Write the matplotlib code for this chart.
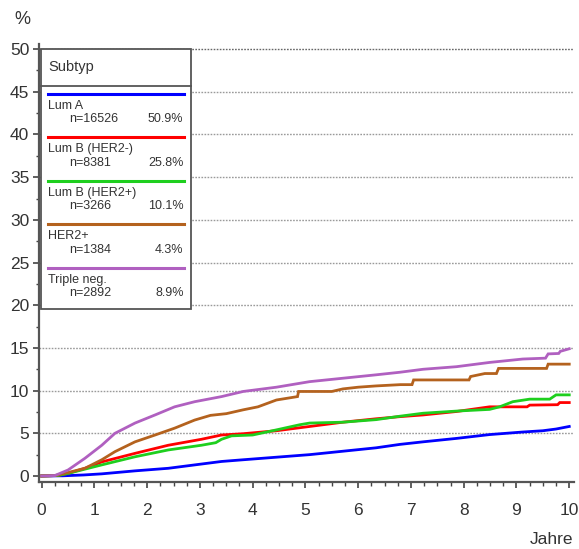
import numpy as np
import matplotlib.pyplot as plt
from matplotlib.patches import Rectangle
from matplotlib.lines import Line2D
from matplotlib.ticker import MultipleLocator

plt.rcParams['font.family'] = ['Liberation Sans', 'DejaVu Sans']

# Subtypen (Legende)
names = ["Lum A", "Lum B (HER2-)", "Lum B (HER2+)", "HER2+", "Triple neg."]
counts = ["n=16526", "n=8381", "n=3266", "n=1384", "n=2892"]
shares = ["50.9%", "25.8%", "10.1%", "4.3%", "8.9%"]
colors = ["#0000ff", "#ff0000", "#1ecf1e", "#b4621e", "#b060c0"]

# Kurven (Jahre, %)
t_luma = [0, 0.4, 0.8, 1.14, 1.77, 2.4, 3.03, 3.41, 3.82, 4.45, 5.08, 5.71, 6.34, 6.79, 7.23, 7.86, 8.49, 9.12, 9.5, 9.75, 10.0]
v_luma = [0, 0.02, 0.12, 0.25, 0.6, 0.9, 1.4, 1.7, 1.9, 2.2, 2.5, 2.9, 3.3, 3.7, 4.0, 4.4, 4.85, 5.15, 5.3, 5.5, 5.8]

t_lumb_neg = [0, 0.3, 0.5, 0.82, 1.14, 1.77, 2.4, 3.03, 3.41, 3.82, 4.45, 5.08, 5.71, 6.34, 6.79, 7.23, 7.86, 8.49, 9.2, 9.25, 9.78, 9.82, 10.0]
v_lumb_neg = [0, 0.05, 0.3, 0.9, 1.65, 2.65, 3.6, 4.3, 4.8, 4.95, 5.3, 5.8, 6.3, 6.7, 6.95, 7.15, 7.55, 8.1, 8.1, 8.3, 8.35, 8.6, 8.6]

t_lumb_pos = [0, 0.3, 0.5, 0.82, 1.14, 1.77, 2.4, 3.03, 3.3, 3.41, 3.6, 4.0, 4.45, 4.89, 5.08, 5.71, 6.34, 6.79, 7.23, 7.86, 8.49, 8.68, 8.93, 9.25, 9.63, 9.75, 10.0]
v_lumb_pos = [0, 0.05, 0.3, 0.8, 1.3, 2.25, 3.05, 3.6, 3.9, 4.3, 4.7, 4.8, 5.4, 6.0, 6.2, 6.3, 6.6, 7.0, 7.35, 7.6, 7.8, 8.1, 8.7, 9.0, 9.0, 9.5, 9.5]

t_her2 = [0, 0.25, 0.5, 0.82, 1.14, 1.39, 1.77, 2.15, 2.52, 2.9, 3.2, 3.5, 3.82, 4.1, 4.45, 4.85, 4.87, 5.5, 5.71, 6.0,
          6.34, 6.8, 7.02, 7.05, 8.1, 8.13, 8.4, 8.62, 8.66, 9.57, 9.6, 10.0]
v_her2 = [0, 0.05, 0.4, 0.9, 1.9, 2.85, 4.0, 4.8, 5.6, 6.55, 7.1, 7.3, 7.75, 8.1, 8.9, 9.3, 9.9, 9.9, 10.2, 10.4,
          10.55, 10.7, 10.7, 11.25, 11.25, 11.65, 12.0, 12.0, 12.6, 12.6, 13.1, 13.1]

t_tneg = [0, 0.25, 0.5, 0.82, 1.14, 1.39, 1.77, 2.15, 2.52, 2.9, 3.41, 3.82, 4.45, 5.08, 5.71, 6.34, 6.79, 7.23, 7.86, 8.49, 9.12, 9.55, 9.6, 9.8, 9.83, 10.0]
v_tneg = [0, 0.05, 0.7, 2.07, 3.6, 5.0, 6.2, 7.15, 8.1, 8.7, 9.3, 9.9, 10.4, 11.05, 11.45, 11.85, 12.15, 12.5, 12.8, 13.3, 13.7, 13.8, 14.3, 14.35, 14.6, 14.9]

series = [(t_luma, v_luma), (t_lumb_neg, v_lumb_neg), (t_lumb_pos, v_lumb_pos), (t_her2, v_her2), (t_tneg, v_tneg)]

W, H = 579, 549
fig = plt.figure(figsize=(W / 100, H / 100), dpi=100)


def fx(px):
    return px / W


def fy(py):
    return 1 - py / H


# Achsen (Pixel -> Figur)
ax = fig.add_axes([fx(39), fy(481.7), fx(574) - fx(39), fy(44) - fy(481.7)])
ax.set_xlim(-0.05, 10.09)
ax.set_ylim(-0.67, 50.6)

for yv in range(5, 55, 5):
    ax.axhline(yv, color="#9a9a9a" if yv < 50 else "#666666", lw=1.0, ls=(0, (1.2, 1.0)), zorder=1)

for (tt, vv), c in zip(series, colors):
    ax.plot(tt, vv, color=c, lw=2.0, zorder=3, solid_joinstyle="miter")

for s in ["top", "right"]:
    ax.spines[s].set_visible(False)
for s in ["left", "bottom"]:
    ax.spines[s].set_color("#555555")
    ax.spines[s].set_linewidth(1.6)

ax.xaxis.set_major_locator(MultipleLocator(1))
ax.xaxis.set_minor_locator(MultipleLocator(0.25))
ax.yaxis.set_major_locator(MultipleLocator(5))
ax.yaxis.set_minor_locator(MultipleLocator(2.5))
ax.tick_params(axis="x", which="major", length=4, width=1.2, color="#444444", labelsize=12.5, pad=11, labelcolor="#333333")
ax.tick_params(axis="x", which="minor", length=3, width=1.0, color="#444444")
ax.tick_params(axis="y", which="major", length=4, width=1.2, color="#444444", labelsize=12.5, pad=3, labelcolor="#333333")
ax.tick_params(axis="y", which="minor", length=2.5, width=1.0, color="#444444")

fig.text(fx(22), fy(20), "%", fontsize=13, color="#333333", ha="center", va="center")
fig.text(fx(573), fy(539), "Jahre", fontsize=12.5, color="#333333", ha="right", va="center")

# Legende
box_l, box_r, box_t, box_b = 40.7, 191, 49.3, 309.3
fig.add_artist(Rectangle((fx(box_l), fy(box_b)), fx(box_r) - fx(box_l), fy(box_t) - fy(box_b),
                         transform=fig.transFigure, facecolor="white", edgecolor="#555555", lw=1.3, zorder=5))
fig.add_artist(Line2D([fx(box_l), fx(box_r)], [fy(85.5), fy(85.5)], transform=fig.transFigure,
                      color="#555555", lw=1.3, zorder=6))
fig.text(fx(48), fy(67), "Subtyp", fontsize=10.5, color="#333333", va="center", zorder=7)

for i in range(len(names)):
    ly = 93.8 + i * 43.5
    fig.add_artist(Line2D([fx(48.3), fx(184.3)], [fy(ly), fy(ly)], transform=fig.transFigure,
                          color=colors[i], lw=2.2, zorder=6))
    fig.text(fx(48), fy(ly + 11.8), names[i], fontsize=9, color="#333333", va="center", zorder=7)
    fig.text(fx(69), fy(ly + 25.3), counts[i], fontsize=9, color="#333333", va="center", zorder=7)
    fig.text(fx(183.5), fy(ly + 25.3), shares[i], fontsize=9, color="#333333", va="center", ha="right", zorder=7)

plt.savefig("out.png", dpi=100)
